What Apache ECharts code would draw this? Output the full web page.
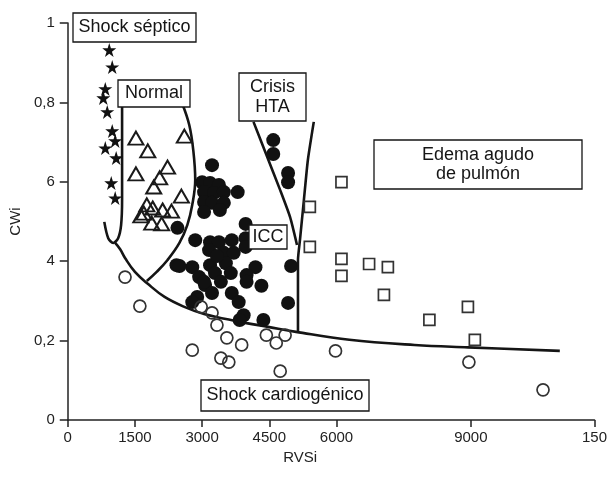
<!DOCTYPE html>
<html>
<head>
<meta charset="utf-8">
<script src="https://cdn.jsdelivr.net/npm/echarts@6/dist/echarts.min.js"></script>
<style>
html,body{margin:0;padding:0;background:#fff;}
#chart{width:610px;height:489px;}
</style>
</head>
<body>
<div id="chart"></div>
<script>
// ---- axis ticks ----
const xTickValues = [0, 1500, 3000, 4500, 6000, 9000, 11760];
const xTickLabels = ['0', '1500', '3000', '4500', '6000', '9000', '150'];
const yTickValues = [0, 0.2, 0.4, 0.6, 0.8, 1];
const yTickLabels = ['0', '0,2', '4', '6', '0,8', '1'];

// ---- Shock séptico (stars) ----
const septicoX = [927, 993, 838, 794, 882, 993, 1059, 838, 1081, 971, 1059];
const septicoY = [0.932, 0.889, 0.834, 0.811, 0.776, 0.728, 0.703, 0.685, 0.660, 0.597, 0.559];

// ---- Normal (open triangles) ----
const normalX = [1522, 2603, 1787, 1522, 2228, 2052, 1919, 2537, 1765, 1897, 1699, 2118, 2316, 1875, 2096, 1632];
const normalY = [0.710, 0.715, 0.678, 0.620, 0.637, 0.610, 0.587, 0.564, 0.542, 0.534, 0.521, 0.529, 0.526, 0.496, 0.494, 0.514];

// ---- ICC (filled circles) ----
const iccX = [3221, 3000, 3177, 3375, 3044, 3265, 3485, 3794, 3044, 3221, 3485, 3397, 3044, 2449, 3971, 2846, 3177, 3375, 3662, 3971, 3971, 3155, 3485, 3706, 2427, 2780, 3177, 3530, 4191, 4986, 2934, 3287, 3640, 3993, 3066, 3419, 3993, 4324, 3221, 3662, 2890, 3816, 2780, 4919, 3927, 3838, 4368, 2493, 3044, 3331];
const iccY = [0.642, 0.599, 0.597, 0.592, 0.574, 0.572, 0.574, 0.574, 0.549, 0.547, 0.547, 0.529, 0.524, 0.484, 0.494, 0.453, 0.448, 0.448, 0.453, 0.458, 0.436, 0.428, 0.421, 0.421, 0.390, 0.385, 0.390, 0.395, 0.385, 0.388, 0.360, 0.370, 0.370, 0.365, 0.340, 0.348, 0.348, 0.338, 0.320, 0.320, 0.310, 0.297, 0.297, 0.295, 0.264, 0.252, 0.252, 0.388, 0.348, 0.413];

// ---- Crisis HTA (filled circles) ----
const htaX = [4588, 4588, 4919, 4919];
const htaY = [0.705, 0.670, 0.622, 0.599];

// ---- Shock cardiogénico (open circles) ----
const cardioX = [1279, 1610, 2978, 3221, 3331, 3552, 3883, 2780, 3419, 3596, 4434, 4655, 4853, 4743, 5978, 8956, 10611];
const cardioY = [0.360, 0.287, 0.285, 0.270, 0.239, 0.207, 0.189, 0.176, 0.156, 0.146, 0.214, 0.194, 0.214, 0.123, 0.174, 0.146, 0.076];

// ---- Edema agudo de pulmón (open squares) ----
const edemaX = [6111, 5405, 5405, 6111, 6111, 6728, 7147, 7059, 8074, 8934, 9089];
const edemaY = [0.599, 0.537, 0.436, 0.406, 0.363, 0.393, 0.385, 0.315, 0.252, 0.285, 0.202];

// ---- boundary curves ----
const septicLineX = [1213, 1213, 1191, 1125, 1015, 904, 816];
const septicLineY = [0.854, 0.554, 0.491, 0.458, 0.446, 0.458, 0.499];
const lowerLineX = [1059, 1170, 1279, 1500, 1787, 2162, 2603, 3044, 3772, 4500, 5096, 6287, 7743, 8934, 10986];
const lowerLineY = [0.446, 0.430, 0.408, 0.373, 0.343, 0.310, 0.285, 0.267, 0.249, 0.234, 0.222, 0.202, 0.189, 0.183, 0.174];
const normalLineX = [2559, 2713, 2802, 2846, 2780, 2669, 2493, 2228, 1985, 1765];
const normalLineY = [0.796, 0.743, 0.680, 0.605, 0.542, 0.491, 0.446, 0.403, 0.373, 0.350];
const htaLeftX = [4147, 4434, 4743, 4964, 5118];
const htaLeftY = [0.751, 0.668, 0.579, 0.511, 0.441];
const htaRightX = [5493, 5361, 5272, 5184, 5140, 5140];
const htaRightY = [0.751, 0.655, 0.554, 0.453, 0.403, 0.222];

function pairs(xs, ys) { return xs.map((x, i) => [x, ys[i]]); }

const FONT = '"Liberation Sans", Arial, Helvetica, sans-serif';
const INK = '#151515';
const STAR = 'path://M50,0 L61.2,34.5 L97.6,34.5 L68.2,55.9 L79.4,90.5 L50,69.1 L20.6,90.5 L31.8,55.9 L2.4,34.5 L38.8,34.5 Z';

function lineSeries(xs, ys, smooth) {
  return {
    type: 'line', data: pairs(xs, ys), showSymbol: false, smooth: smooth,
    lineStyle: { color: INK, width: 2.6 }, silent: true, z: 2
  };
}

const chart = echarts.init(document.getElementById('chart'), null, { renderer: 'canvas' });

function box(x, y, w, h, lines, lineH) {
  const els = [{
    type: 'rect', shape: { x: x, y: y, width: w, height: h },
    style: { fill: '#fff', stroke: INK, lineWidth: 1.3 }, z: 10
  }];
  const cy0 = y + h / 2 - (lines.length - 1) * lineH / 2;
  lines.forEach((t, i) => {
    els.push({
      type: 'text', x: x + w / 2, y: cy0 + i * lineH, z: 11,
      style: { text: t, fill: INK, font: '18px ' + FONT, textAlign: 'center', textVerticalAlign: 'middle' }
    });
  });
  return els;
}

const graphics = [].concat(
  box(73, 13, 123, 29, ['Shock séptico'], 20),
  box(118, 80, 72, 27, ['Normal'], 20),
  box(239, 73, 67, 48, ['Crisis', 'HTA'], 20),
  box(249, 225, 38, 24, ['ICC'], 20),
  box(374, 140, 208, 49, ['Edema agudo', 'de pulmón'], 19),
  box(201, 380, 168, 31, ['Shock cardiogénico'], 20)
);

chart.setOption({
  animation: false,
  backgroundColor: '#fff',
  grid: { left: 62, right: 15, top: 23, bottom: 69, containLabel: false },
  xAxis: {
    type: 'value', min: 0, max: 11760,
    name: 'RVSi', nameLocation: 'middle', nameGap: 27,
    nameTextStyle: { color: '#222', fontSize: 15, fontFamily: FONT, padding: [0, 62, 0, 0] },
    axisLine: { show: true, lineStyle: { color: '#222', width: 1.5 } },
    axisTick: { show: true, length: 7, customValues: xTickValues, lineStyle: { color: '#222', width: 1.5 } },
    axisLabel: {
      customValues: xTickValues, color: '#222', fontSize: 15, fontFamily: FONT, margin: 10,
      formatter: function (v) { const i = xTickValues.indexOf(v); return i >= 0 ? xTickLabels[i] : ''; }
    },
    splitLine: { show: false }
  },
  yAxis: {
    type: 'value', min: 0, max: 1, interval: 0.2,
    name: 'CWi', nameLocation: 'middle', nameGap: 34, nameRotate: 90,
    nameTextStyle: { color: '#222', fontSize: 15, fontFamily: FONT },
    axisLine: { show: true, lineStyle: { color: '#222', width: 1.5 } },
    axisTick: { show: true, length: 8, lineStyle: { color: '#222', width: 1.5 } },
    axisLabel: {
      color: '#222', fontSize: 15, fontFamily: FONT, margin: 13,
      formatter: function (v) { const i = Math.round(v / 0.2); return yTickLabels[i]; }
    },
    splitLine: { show: false }
  },
  series: [
    lineSeries(septicLineX, septicLineY, 0.3),
    lineSeries(lowerLineX, lowerLineY, 0.4),
    lineSeries(normalLineX, normalLineY, 0.4),
    lineSeries(htaLeftX, htaLeftY, 0.2),
    lineSeries(htaRightX, htaRightY, 0.2),
    {
      name: 'Shock séptico', type: 'scatter', data: pairs(septicoX, septicoY),
      symbol: STAR, symbolSize: 14, itemStyle: { color: '#111', opacity: 1 }, z: 4
    },
    {
      name: 'Normal', type: 'scatter', data: pairs(normalX, normalY),
      symbol: 'triangle', symbolSize: [15, 13],
      itemStyle: { color: 'rgba(255,255,255,0)', borderColor: '#1a1a1a', borderWidth: 2, opacity: 1 }, z: 4
    },
    {
      name: 'ICC', type: 'scatter', data: pairs(iccX, iccY),
      symbol: 'circle', symbolSize: 14, itemStyle: { color: '#111', opacity: 1 }, z: 4
    },
    {
      name: 'Crisis HTA', type: 'scatter', data: pairs(htaX, htaY),
      symbol: 'circle', symbolSize: 14, itemStyle: { color: '#111', opacity: 1 }, z: 4
    },
    {
      name: 'Shock cardiogénico', type: 'scatter', data: pairs(cardioX, cardioY),
      symbol: 'circle', symbolSize: 12,
      itemStyle: { color: 'rgba(255,255,255,0)', borderColor: '#333', borderWidth: 1.7, opacity: 1 }, z: 4
    },
    {
      name: 'Edema agudo de pulmón', type: 'scatter', data: pairs(edemaX, edemaY),
      symbol: 'rect', symbolSize: 11,
      itemStyle: { color: 'rgba(255,255,255,0)', borderColor: '#333', borderWidth: 1.7, opacity: 1 }, z: 4
    }
  ],
  graphic: graphics
});
</script>
</body>
</html>
